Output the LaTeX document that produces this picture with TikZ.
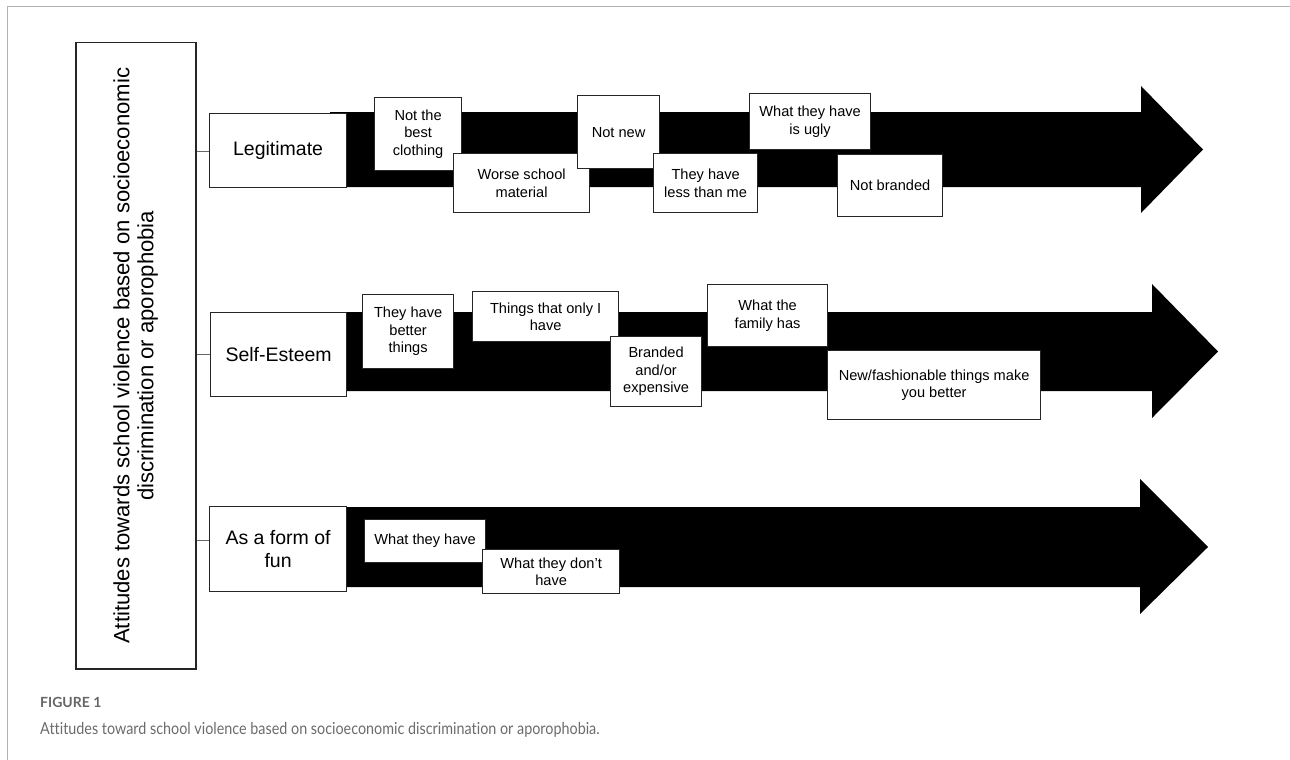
\documentclass[tikz,border=0pt]{standalone}
\usepackage{fontspec}
\setmainfont{Liberation Sans}
\newfontfamily\capfont[Ligatures=NoCommon]{Lato}
\begin{document}
\begin{tikzpicture}[x=1pt,y=-1pt,
  bx/.style={draw=black!85, line width=1.2pt, fill=white, inner sep=0pt, align=center, anchor=north west},
  item/.style={bx, font=\fontsize{14.6}{17.5}\selectfont},
  cat/.style={bx, font=\fontsize{19.5}{23}\selectfont},
  link/.style={draw=black!60, line width=1pt},
  bar/.style={fill=black}]
\useasboundingbox (0,0) rectangle (1290,760);
\draw[black!30, line width=1pt] (7,760) -- (7,7) -- (1290,7);

% arrows
\fill[bar] (330,112) -- (1141,112) -- (1141,86) -- (1203,149.5) -- (1141,213) -- (1141,187) -- (330,187) -- cycle;
\fill[bar] (330,312) -- (1152,312) -- (1152,284) -- (1218,351.5) -- (1152,418) -- (1152,391) -- (330,391) -- cycle;
\fill[bar] (330,507) -- (1140,507) -- (1140,479) -- (1208,547) -- (1140,614) -- (1140,587) -- (330,587) -- cycle;

% main box
\node[bx, line width=1.5pt, minimum width=120pt, minimum height=626pt] (main) at (75,42) {};
\node[rotate=90, align=center, font=\fontsize{22.1}{24}\selectfont] (maintext) at (main.center) {Attitudes towards school violence based on socioeconomic\\discrimination or aporophobia};

% categories
\node[cat, minimum width=137pt, minimum height=74pt] (leg) at (209,113) {Legitimate};
\node[cat, minimum width=136pt, minimum height=84pt] (self) at (210,312) {Self-Esteem};
\node[cat, minimum width=137pt, minimum height=85pt] (fun) at (209,506) {As a form of\\fun};

\draw[link] ([yshift=-1pt]leg.west -| main.east) -- ([yshift=-1pt]leg.west);
\draw[link] (self.west -| main.east) -- (self.west);
\draw[link] ([yshift=8.5pt]fun.west -| main.east) -- ([yshift=8.5pt]fun.west);

% Legitimate items
\node[item, minimum width=87pt, minimum height=73pt] (a1) at (374,97) {Not the\\best\\clothing};
\node[item, minimum width=136pt, minimum height=59pt] (a2) at (453,153) {Worse school\\material};
\node[item, minimum width=82pt, minimum height=73pt] (a3) at (577,95) {Not new};
\node[item, minimum width=104pt, minimum height=59pt] (a4) at (653,153) {They have\\less than me};
\node[item, minimum width=121pt, minimum height=56pt] (a5) at (749,93) {What they have\\is ugly};
\node[item, minimum width=105pt, minimum height=62pt] (a6) at (837,154) {Not branded};

% Self-Esteem items
\node[item, minimum width=91pt, minimum height=74pt] (b1) at (362,294) {They have\\better\\things};
\node[item, minimum width=146pt, minimum height=50pt] (b2) at (472,291) {Things that only I\\have};
\node[item, minimum width=91pt, minimum height=70pt] (b3) at (610,336) {Branded\\and/or\\expensive};
\node[item, minimum width=120pt, minimum height=62pt] (b4) at (707,284) {What the\\family has};
\node[item, minimum width=213pt, minimum height=69pt] (b5) at (827,350) {New/fashionable things make\\you better};

% Fun items
\node[item, minimum width=121pt, minimum height=43pt] (c1) at (364,519) {What they have};
\node[item, minimum width=137pt, minimum height=44pt] (c2) at (482,549) {What they don't\\have};

% caption
\node[anchor=base west, inner sep=0pt, text=black!60, font=\capfont\bfseries\fontsize{14}{16}\selectfont] (fig) at (40,707) {FIGURE 1};
\node[anchor=base west, inner sep=0pt, text=black!58, font=\capfont\fontsize{16.5}{20}\selectfont] (cap) at (40,734) {\scalebox{0.87}[1]{Attitudes toward school violence based on socioeconomic discrimination or aporophobia.}};
\end{tikzpicture}
\end{document}
